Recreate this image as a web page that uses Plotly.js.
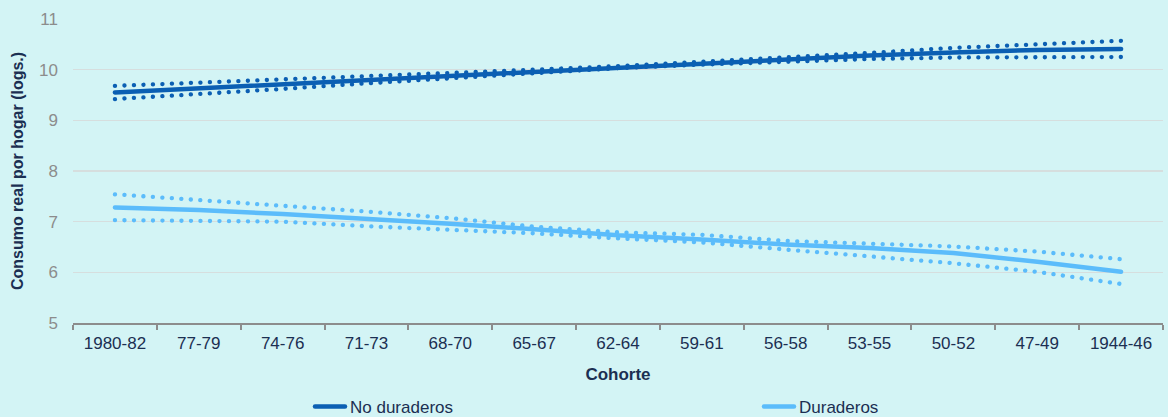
<!DOCTYPE html>
<html>
<head>
<meta charset="utf-8">
<script src="https://cdn.plot.ly/plotly-3.0.1.min.js"></script>
<style>
  html, body { margin: 0; padding: 0; background: #d3f4f5; }
  #chart { width: 1168px; height: 417px; }
  path.js-line { stroke-linecap: round; stroke-linejoin: round; }
</style>
</head>
<body>
<div id="chart"></div>
<script>
const cohortes = ['1980-82','77-79','74-76','71-73','68-70','65-67','62-64','59-61','56-58','53-55','50-52','47-49','1944-46'];

const noDuraderos      = [9.55, 9.63, 9.72, 9.80, 9.88, 9.96, 10.05, 10.13, 10.20, 10.28, 10.34, 10.39, 10.41];
const noDuraderosSup   = [9.68, 9.74, 9.80, 9.87, 9.94, 10.00, 10.07, 10.15, 10.24, 10.33, 10.43, 10.51, 10.57];
const noDuraderosInf   = [9.42, 9.51, 9.62, 9.73, 9.83, 9.93, 10.03, 10.10, 10.16, 10.21, 10.24, 10.25, 10.25];

const duraderos        = [7.28, 7.23, 7.15, 7.06, 6.96, 6.85, 6.73, 6.65, 6.55, 6.48, 6.38, 6.21, 6.01];
const duraderosSup     = [7.54, 7.43, 7.31, 7.20, 7.07, 6.90, 6.79, 6.74, 6.62, 6.57, 6.51, 6.41, 6.26];
const duraderosInf     = [7.03, 7.01, 7.00, 6.91, 6.85, 6.77, 6.67, 6.59, 6.45, 6.32, 6.18, 6.01, 5.77];

const dark = '#0b5fb3';
const light = '#5bbcfb';
const dotDash = '0.1px,9.4px';

const traces = [
  {x: cohortes, y: noDuraderosSup, type: 'scatter', mode: 'lines', line: {color: dark, width: 4.3, dash: dotDash}, showlegend: false, hoverinfo: 'skip'},
  {x: cohortes, y: noDuraderosInf, type: 'scatter', mode: 'lines', line: {color: dark, width: 4.3, dash: dotDash}, showlegend: false, hoverinfo: 'skip'},
  {x: cohortes, y: duraderosSup, type: 'scatter', mode: 'lines', line: {color: light, width: 4.3, dash: dotDash}, showlegend: false, hoverinfo: 'skip'},
  {x: cohortes, y: duraderosInf, type: 'scatter', mode: 'lines', line: {color: light, width: 4.3, dash: dotDash}, showlegend: false, hoverinfo: 'skip'},
  {x: cohortes, y: noDuraderos, name: 'No duraderos', type: 'scatter', mode: 'lines', line: {color: dark, width: 4.5}, legend: 'legend'},
  {x: cohortes, y: duraderos, name: 'Duraderos', type: 'scatter', mode: 'lines', line: {color: light, width: 4.5}, legend: 'legend2'}
];

const legendCommon = {
  orientation: 'h',
  xref: 'container', yref: 'container',
  xanchor: 'left', yanchor: 'middle',
  font: {size: 17, color: '#1b2f52'},
  bgcolor: 'rgba(0,0,0,0)'
};

const layout = {
  width: 1168, height: 417,
  paper_bgcolor: '#d3f4f5', plot_bgcolor: '#d3f4f5',
  margin: {l: 73, r: 5, t: 19, b: 94, autoexpand: false},
  font: {family: 'Liberation Sans, Arial, sans-serif', size: 17, color: '#1b2f52'},
  xaxis: {
    type: 'category',
    range: [-0.5, 12.5],
    tickson: 'boundaries',
    ticks: 'outside', ticklen: 5, tickwidth: 2, tickcolor: '#8c8c8c',
    showline: true, linecolor: '#8c8c8c', linewidth: 2,
    showgrid: false, zeroline: false,
    ticklabelstandoff: 4,
    tickfont: {size: 17, color: '#1b2f52'},
    title: {text: '<b>Cohorte</b>', font: {size: 17, color: '#1b2f52'}, standoff: 16},
    fixedrange: true
  },
  yaxis: {
    range: [5, 11], dtick: 1,
    showline: false, zeroline: false,
    gridcolor: '#d6dede', gridwidth: 1.5,
    ticks: '', ticklabelstandoff: 14,
    tickfont: {size: 17, color: '#8c8c8c'},
    title: {text: '<b>Consumo real por hogar (logs.)</b>', font: {size: 16, color: '#1b2f52'}, standoff: 11},
    fixedrange: true
  },
  legend: Object.assign({}, legendCommon, {x: 310 / 1168, y: 10 / 417}),
  legend2: Object.assign({}, legendCommon, {x: 759 / 1168, y: 10 / 417}),
  showlegend: true
};

Plotly.newPlot('chart', traces, layout, {displayModeBar: false, staticPlot: true});
</script>
</body>
</html>
